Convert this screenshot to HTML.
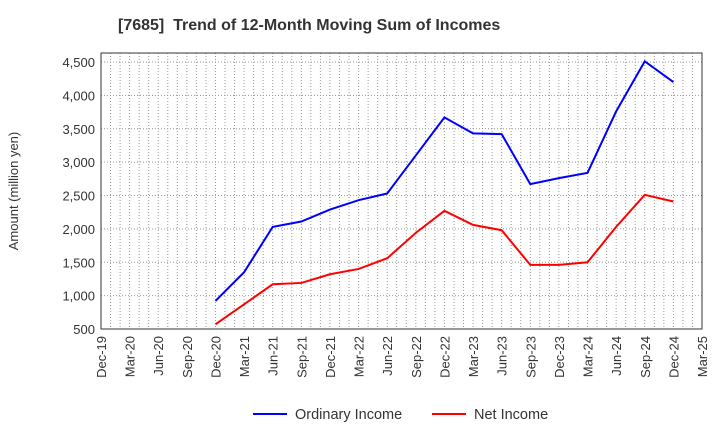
<!DOCTYPE html>
<html><head><meta charset="utf-8"><style>
body{margin:0;background:#fff;font-family:"Liberation Sans",sans-serif}
svg text{font-family:"Liberation Sans",sans-serif}
</style></head><body>
<svg id="c" width="720" height="440" xmlns="http://www.w3.org/2000/svg">
<text x="118" y="30" font-size="16" font-weight="bold" fill="#333">[7685]&#160; Trend of 12-Month Moving Sum of Incomes</text>
<text transform="translate(18,191) rotate(-90)" text-anchor="middle" font-size="13" fill="#333">Amount (million yen)</text>
<g id="grid"></g><g id="axes"></g><g id="series"></g>
<g>
<line x1="253" y1="414" x2="287" y2="414" stroke="#0000ff" stroke-width="2"/>
<text x="295" y="419" font-size="14.5" fill="#333">Ordinary Income</text>
<line x1="432" y1="414" x2="466" y2="414" stroke="#ff0000" stroke-width="2"/>
<text x="474" y="419" font-size="14.5" fill="#333">Net Income</text>
</g>
</svg>
<script>
const xLabels=["Dec-19","Mar-20","Jun-20","Sep-20","Dec-20","Mar-21","Jun-21","Sep-21","Dec-21","Mar-22","Jun-22","Sep-22","Dec-22","Mar-23","Jun-23","Sep-23","Dec-23","Mar-24","Jun-24","Sep-24","Dec-24","Mar-25"];
const yTicks=[500,1000,1500,2000,2500,3000,3500,4000,4500];
const yTickLabels=["500","1,000","1,500","2,000","2,500","3,000","3,500","4,000","4,500"];
const ordinaryIncome=[920,1350,2030,2110,2290,2430,2530,3100,3670,3430,3420,2670,2760,2840,3760,4510,4200];
const netIncome=[570,870,1170,1190,1320,1400,1560,1940,2270,2060,1980,1460,1460,1500,2030,2510,2410];
const seriesStart=4;
const L=101,R=702,T=53,B=329;
const ns="http://www.w3.org/2000/svg";
const X=i=>L+(R-L)*i/(xLabels.length-1);
const Y=v=>B-(v-500)*(B-62)/4000;
function mk(tag,attrs,parent){const e=document.createElementNS(ns,tag);for(const k in attrs)e.setAttribute(k,attrs[k]);document.getElementById(parent).appendChild(e);return e;}
const months=(xLabels.length-1)*3;
for(let m=1;m<months;m++){const x=L+(R-L)*m/months;
const g=mk('line',{x1:x,x2:x,y1:T,y2:B,stroke:'#999','stroke-dasharray':'1,2','stroke-width':1},'grid');

}
yTicks.forEach((v,i)=>{const y=Y(v);
const g=mk('line',{x1:L,x2:R,y1:y,y2:y,stroke:'#999','stroke-dasharray':'1,2'},'grid');


const t=mk('text',{x:L-6,y:y+5,'text-anchor':'end','font-size':13,fill:'#333'},'axes');t.textContent=yTickLabels[i];

});
xLabels.forEach((s,i)=>{const x=X(i);
const t=mk('text',{transform:`translate(${x+5},${B+7}) rotate(-90)`,'text-anchor':'end','font-size':13,fill:'#333'},'axes');t.textContent=s;

});
const fr=mk('rect',{x:L,y:T,width:R-L,height:B-T,fill:'none',stroke:'#333','stroke-width':1},'axes');


function line(data,color,name){const pts=data.map((v,i)=>X(i+seriesStart)+','+Y(v)).join(' ');
const p=mk('polyline',{points:pts,fill:'none',stroke:color,'stroke-width':2},'series');

}
line(ordinaryIncome,'#0000ff','ordinary-income-line');
line(netIncome,'#ff0000','net-income-line');
</script>
</body></html>
